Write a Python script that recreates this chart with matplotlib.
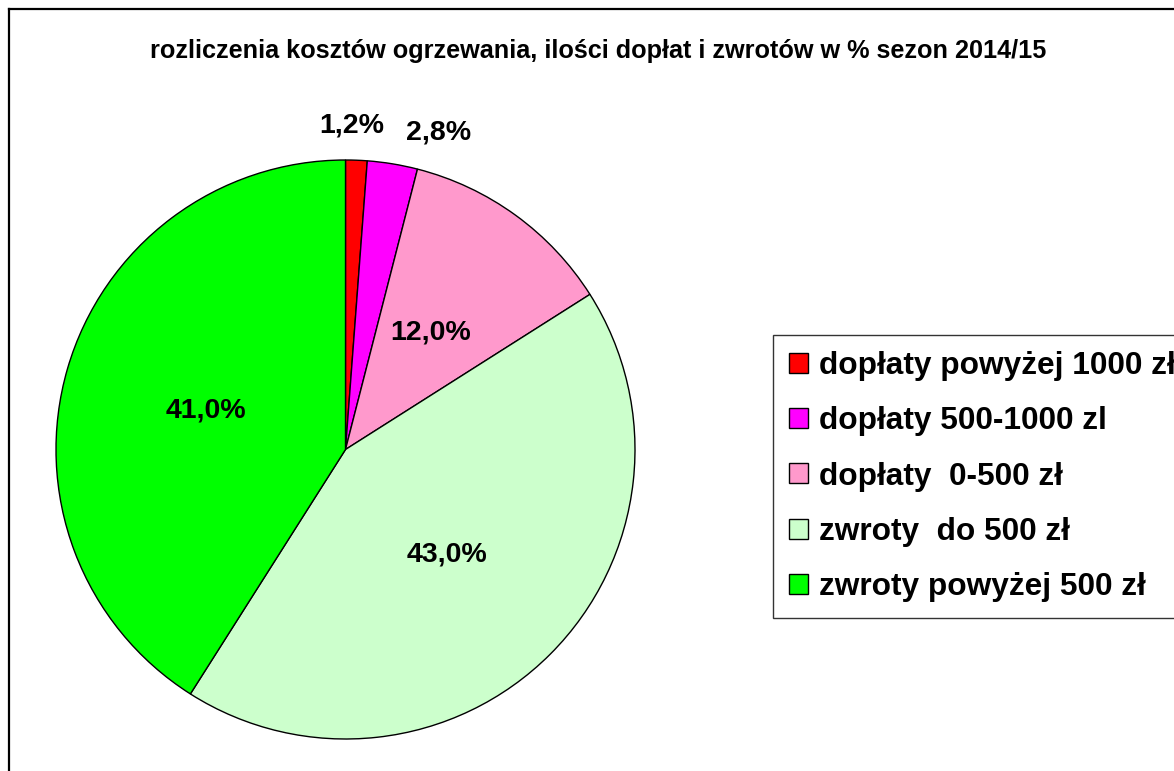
import numpy as np
import matplotlib
matplotlib.use("Agg")
import matplotlib.pyplot as plt
from matplotlib.patches import Patch
from matplotlib.lines import Line2D

plt.rcParams['font.family'] = ['Liberation Sans', 'DejaVu Sans']

title = "rozliczenia kosztów ogrzewania, ilości dopłat i zwrotów w % sezon 2014/15"
categories = ["dopłaty powyżej 1000 zł", "dopłaty 500-1000 zl", "dopłaty  0-500 zł",
              "zwroty  do 500 zł", "zwroty powyżej 500 zł"]
values = [1.2, 2.8, 12.0, 43.0, 41.0]
colors = ["#FF0000", "#FF00FF", "#FF99CC", "#CCFFCC", "#00FF00"]

# label placement styling: radius fraction and angle offset (deg)
label_r = [1.12, 1.14, 0.50, 0.505, 0.50]
label_dang = [1.0, -7.0, 0.0, -1.0, 0.7]

W, H = 1174, 771
fig = plt.figure(figsize=(W / 100, H / 100), dpi=100)

cx, cy, r = 345.5, 449.5, 289.5
ax = fig.add_axes([(cx - r) / W, 1 - (cy + r) / H, 2 * r / W, 2 * r / H])
wedges, _ = ax.pie(values, colors=colors, startangle=90, counterclock=False,
                   radius=1.0, wedgeprops=dict(edgecolor='black', linewidth=1.0))
ax.set_xlim(-1, 1)
ax.set_ylim(-1, 1)
ax.set_aspect('auto')
ax.axis('off')
for w in wedges:
    w.set_clip_on(False)

total = sum(values)
start = 90.0
for v, lr, da in zip(values, label_r, label_dang):
    sweep = v / total * 360.0
    mid = start - sweep / 2 + da
    start -= sweep
    x = lr * np.cos(np.radians(mid))
    y = lr * np.sin(np.radians(mid))
    ax.text(x, y, f"{v:.1f}%".replace('.', ','), ha='center', va='center',
            fontsize=20.5, fontweight='bold', clip_on=False)

fig.text(598 / W, 1 - 51 / H, title, ha='center', va='center',
         fontsize=18.2, fontweight='bold')

handles = [Patch(facecolor=c, edgecolor='black', linewidth=1.0) for c in colors]
leg = fig.legend(handles, categories, loc='upper left',
                 bbox_to_anchor=(773 / W, 1 - 335 / H),
                 prop=dict(size=22.8, weight='bold'),
                 frameon=True, fancybox=False, edgecolor='black',
                 handlelength=0.6, handleheight=0.6, handletextpad=0.34,
                 labelspacing=0.80, borderpad=0.5, borderaxespad=0)
leg.get_frame().set_linewidth(1.0)

# outer border (only left and top visible)
fig.add_artist(Line2D([9 / W, 9 / W], [0, 1 - 9 / H], color='black', linewidth=1.6))
fig.add_artist(Line2D([9 / W, 1], [1 - 9 / H, 1 - 9 / H], color='black', linewidth=1.6))

fig.savefig("out.png", dpi=100, facecolor='white')
